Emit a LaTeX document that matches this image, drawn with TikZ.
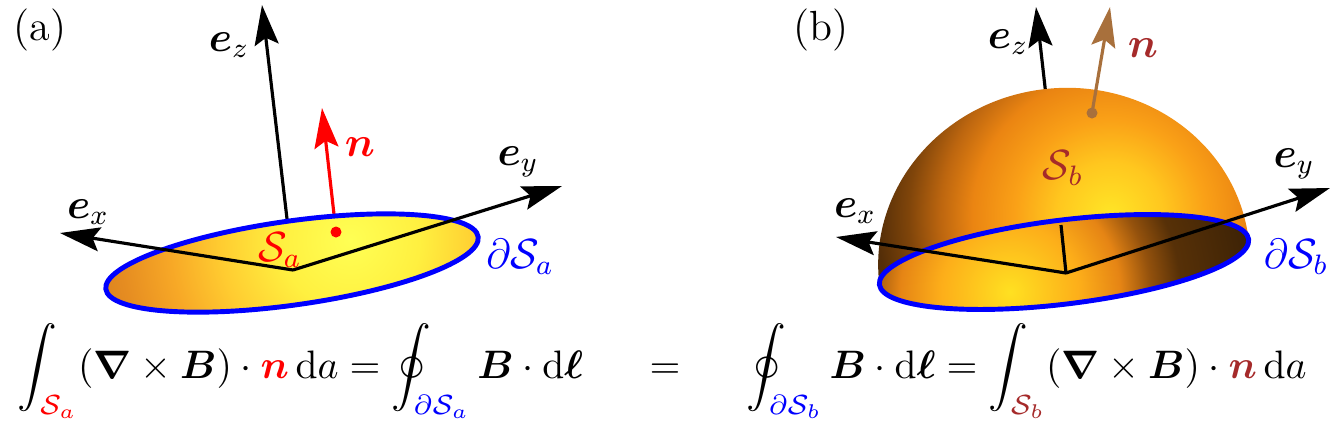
\documentclass[tikz,border=0pt,11pt]{standalone}
\usepackage{fix-cm}
\usepackage{amsmath, amssymb}
\usetikzlibrary{arrows.meta}
\definecolor{nbrown}{RGB}{168,112,60}
\definecolor{sbrown}{RGB}{165,42,42}
\definecolor{rimblue}{RGB}{0,0,255}
\pgfdeclareradialshading{diskshade}{\pgfpointorigin}{rgb(0bp)=(1,1,0.33); rgb(7bp)=(1,0.94,0.25); rgb(13bp)=(1,0.8,0.19); rgb(18bp)=(0.97,0.66,0.15); rgb(23bp)=(0.9,0.55,0.13); rgb(28bp)=(0.82,0.48,0.11); rgb(50bp)=(0.82,0.48,0.11)}
\pgfdeclareradialshading{domeshade}{\pgfpointorigin}{rgb(0bp)=(1,0.9,0.15); rgb(5bp)=(1,0.78,0.12); rgb(9bp)=(0.98,0.63,0.09); rgb(13bp)=(0.92,0.52,0.07); rgb(16bp)=(0.74,0.4,0.06); rgb(19bp)=(0.5,0.27,0.04); rgb(22bp)=(0.33,0.18,0.03); rgb(50bp)=(0.27,0.15,0.03)}
\pgfdeclareradialshading{innershade}{\pgfpointorigin}{rgb(0bp)=(1,0.88,0.13); rgb(7bp)=(0.99,0.68,0.1); rgb(11bp)=(0.9,0.52,0.08); rgb(14bp)=(0.58,0.32,0.05); rgb(17bp)=(0.34,0.19,0.03); rgb(25bp)=(0.23,0.13,0.02); rgb(50bp)=(0.23,0.13,0.02)}
\tikzset{
  axis/.style={line width=0.9pt, -{Stealth[length=4mm, width=2.4mm, inset=0.7mm]}},
  rim/.style={draw=rimblue, line width=1.4pt},
  lbl/.style={inner sep=1pt, font=\fontsize{12}{14}\selectfont},
  spot/.style={circle, inner sep=0pt, minimum size=1.1mm}
}
\begin{document}
\begin{tikzpicture}[font=\fontsize{11.3}{13.6}\selectfont]
    \useasboundingbox (0,0) rectangle (13.42,4.26);
    % (a) flat surface
    \coordinate (oa) at (2.93,1.56);
    \coordinate (ca) at (2.92,1.63);
    \coordinate (exa) at (0.60,1.93);
    \coordinate (eya) at (5.62,2.40);
    \coordinate (eza) at (2.62,4.21);
    \coordinate (nta) at (3.22,3.18);
    \coordinate (hla) at (3.50,1.86);
    \node[spot, fill=red] (na) at (3.36,1.94) {};
    \draw[axis] (oa) -- (eza);
    \draw[axis, red] (na.center) -- (nta);
    \begin{scope}
        \clip[rotate around={8:(ca)}] (ca) ellipse [x radius=1.88, y radius=0.42];
        \shade[shading=diskshade] (hla) circle (2.5);
    \end{scope}
    \draw[rim, rotate around={8:(ca)}] (ca) ellipse [x radius=1.88, y radius=0.42];
    \draw[axis] (oa) -- (exa);
    \draw[axis] (oa) -- (eya);
    \node[spot, fill=red] at (na) {};
    \node[lbl] (pa) at (0.40,3.96) {(a)};
    \node[lbl] (lza) at (2.29,3.81) {$\boldsymbol{e}_z$};
    \node[lbl, red] (lna) at (3.60,2.79) {$\boldsymbol{n}$};
    \node[lbl] (lya) at (5.18,2.64) {$\boldsymbol{e}_y$};
    \node[lbl] (lxa) at (0.88,2.14) {$\boldsymbol{e}_x$};
    \node[lbl, red] (lsa) at (2.80,1.76) {$\mathcal{S}_a$};
    \node[lbl, rimblue] (lra) at (5.20,1.69) {$\partial\mathcal{S}_a$};
    % (b) hemisphere
    \coordinate (ob) at (10.66,1.53);
    \coordinate (cb) at (10.64,1.64);
    \coordinate (exb) at (8.36,1.89);
    \coordinate (eyb) at (13.30,2.38);
    \coordinate (ezb) at (10.36,4.19);
    \coordinate (ezback) at (10.61,2.01);
    \coordinate (ntb) at (11.10,4.19);
    \coordinate (hlb) at (11.10,2.11);
    \coordinate (hlc) at (10.10,1.34);
    \draw[axis] (ob) -- (ezb);
    \begin{scope}[shift={(cb)}, rotate=7]
        \clip (-1.86,0) arc[start angle=180, end angle=0, x radius=1.86, y radius=1.74]
            arc[start angle=0, end angle=-180, x radius=1.86, y radius=0.42] -- cycle;
        \shade[shading=domeshade] (hlb) circle (2.5);
    \end{scope}
    \begin{scope}
        \clip[rotate around={7:(cb)}] (cb) ellipse [x radius=1.86, y radius=0.42];
        \shade[shading=innershade] (hlc) circle (2.5);
    \end{scope}
    \draw[rim, rotate around={7:(cb)}] (cb) ellipse [x radius=1.86, y radius=0.42];
    \draw[line width=0.9pt] (ob) -- (ezback);
    \draw[axis] (ob) -- (exb);
    \draw[axis] (ob) -- (eyb);
    \node[spot, fill=nbrown] (nb) at (10.92,3.13) {};
    \draw[axis, nbrown] (nb.center) -- (ntb);
    \node[lbl] (pb) at (8.21,3.96) {(b)};
    \node[lbl] (lzb) at (10.08,3.84) {$\boldsymbol{e}_z$};
    \node[lbl, sbrown] (lnb) at (11.43,3.78) {$\boldsymbol{n}$};
    \node[lbl] (lyb) at (12.94,2.62) {$\boldsymbol{e}_y$};
    \node[lbl] (lxb) at (8.55,2.15) {$\boldsymbol{e}_x$};
    \node[lbl, sbrown] (lsb) at (10.63,2.58) {$\mathcal{S}_b$};
    \node[lbl, rimblue] (lrb) at (12.96,1.69) {$\partial\mathcal{S}_b$};
    % Stokes on both surfaces
    \node[anchor=base west, inner sep=0pt] (eqa) at (0.17,0.48)
        {$\displaystyle\int_{\color{red}\mathcal{S}_a}(\boldsymbol{\nabla}\times\boldsymbol{B})\cdot{\color{red}\boldsymbol{n}}\,\mathrm{d}a=\oint_{\color{rimblue}\partial\mathcal{S}_a}\boldsymbol{B}\cdot\mathrm{d}\boldsymbol{\ell}$};
    \node[anchor=base] (eqm) at (6.65,0.48) {$=$};
    \node[anchor=base west, inner sep=0pt] (eqb) at (7.46,0.48)
        {$\displaystyle\oint_{\color{rimblue}\partial\mathcal{S}_b}\boldsymbol{B}\cdot\mathrm{d}\boldsymbol{\ell}=\int_{\color{sbrown}\mathcal{S}_b}(\boldsymbol{\nabla}\times\boldsymbol{B})\cdot{\color{sbrown}\boldsymbol{n}}\,\mathrm{d}a$};
\end{tikzpicture}
\end{document}
